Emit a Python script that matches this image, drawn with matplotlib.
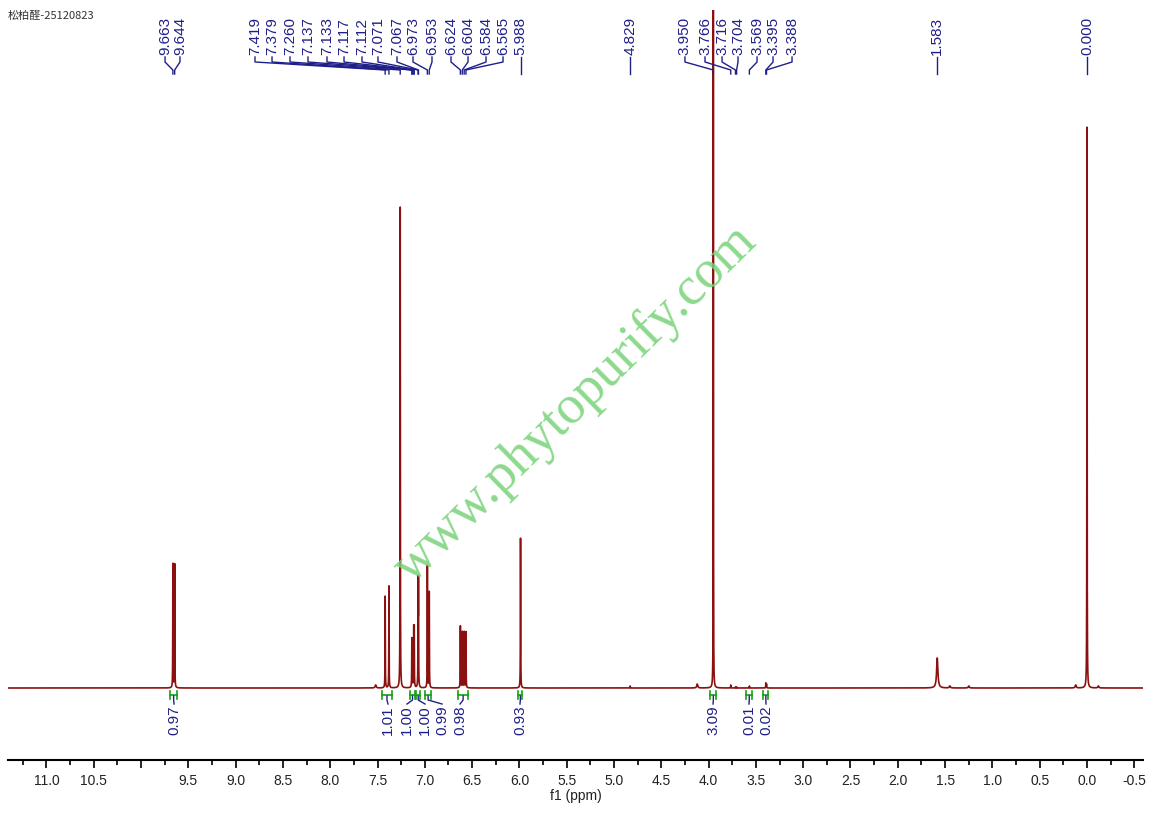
import matplotlib.pyplot as plt
import numpy as np

plt.rcParams['font.family'] = ['Liberation Sans', 'DejaVu Sans']

title = "松柏醛-25120823"

# labelled peaks: shift (ppm) and height (arb. units, ~px above baseline)
shifts = [9.663, 9.644, 7.419, 7.379, 7.260, 7.137, 7.133, 7.117, 7.112, 7.071, 7.067,
          6.973, 6.953, 6.624, 6.604, 6.584, 6.565, 5.988, 4.829, 3.950, 3.766, 3.716,
          3.704, 3.569, 3.395, 3.388, 1.583, 0.000]
heights = [124, 124, 92, 102, 481, 44, 44, 57, 58, 100, 100,
           122, 96, 62, 56, 56, 56, 150, 2, 2000, 3, 1,
           1, 2, 5, 4, 30, 561]
widths = [0.0015] * len(shifts)
widths[shifts.index(1.583)] = 0.008
widths[shifts.index(3.950)] = 0.0007

# small unlabelled bumps
extra_shifts = [7.52, 4.12, 1.45, 1.25, 0.12, -0.12]
extra_heights = [3, 4, 2, 2, 3, 2]

# label positions along the top (ppm), spread like the software does
label_x = [9.746, 9.588, 8.795, 8.615, 8.425, 8.235, 8.034, 7.854, 7.664, 7.495, 7.294,
           7.125, 6.924, 6.723, 6.543, 6.353, 6.173, 5.988, 4.829, 4.250, 4.038, 3.858,
           3.689, 3.488, 3.319, 3.118, 1.583, 0.000]

# integrals
integ_lo = [9.62, 7.35, 7.10, 7.05, 6.93, 6.54, 5.97, 3.92, 3.54, 3.37]
integ_hi = [9.69, 7.45, 7.16, 7.09, 7.00, 6.65, 6.01, 3.98, 3.60, 3.42]
integ_vals = ["0.97", "1.01", "1.00", "1.00", "0.99", "0.98", "0.93", "3.09", "0.01", "0.02"]
integ_label_x = [9.651, 7.389, 7.188, 6.998, 6.818, 6.628, 5.994, 3.953, 3.573, 3.393]

# build spectrum from peak list (lorentzian lines)
x = np.linspace(11.45, -0.65, 60001)
y = np.zeros_like(x)
for p, h, w in zip(shifts, heights, widths):
    y += h / (1 + ((x - p) / w) ** 2)
for p, h in zip(extra_shifts, extra_heights):
    y += h / (1 + ((x - p) / 0.006) ** 2)

fig = plt.figure(figsize=(11.5, 8.13), dpi=100)
ax = fig.add_axes([8 / 1150, 1 - 760 / 813, 1135 / 1150, 750 / 813])

spec_col = '#8b1010'
lab_col = '#1f1f8a'
int_col = '#16a016'

ax.plot(x, y, color=spec_col, lw=1.2)
ax.set_xlim(11.406, -0.592)
ax.set_ylim(-72, 678)

for s in ['top', 'left', 'right']:
    ax.spines[s].set_visible(False)
ax.spines['bottom'].set_linewidth(1.5)
ax.set_yticks([])

major = np.arange(-0.5, 11.01, 0.5)
minor = np.arange(-0.25, 11.3, 0.5)
ax.set_xticks(major)
ax.set_xticks(minor, minor=True)
ax.set_xticklabels(['' if abs(v - 10) < 1e-6 else f'{round(v, 1) + 0.0:.1f}' for v in major])
ax.tick_params(axis='x', which='major', length=6, width=1.2, labelsize=10,
               labelcolor='#222222', pad=4)
ax.tick_params(axis='x', which='minor', length=3.5, width=1.2)
ax.set_xlabel('f1 (ppm)', fontsize=10, color='#222222', labelpad=1)

# peak labels
for p, lx in zip(shifts, label_x):
    ax.text(lx, 633, f'{p:.3f}', rotation=90, ha='center', va='bottom',
            fontsize=11, color=lab_col)
    ax.plot([lx, lx, p, p], [631, 626, 618, 614], color=lab_col, lw=1,
            clip_on=False)

# integrals
for lo, hi, val, lx in zip(integ_lo, integ_hi, integ_vals, integ_label_x):
    c = (lo + hi) / 2
    ax.plot([hi, lo], [-7, -7], color=int_col, lw=1.2)
    ax.plot([hi, hi], [-3, -11], color=int_col, lw=1.2)
    ax.plot([lo, lo], [-3, -11], color=int_col, lw=1.2)
    ax.plot([c, c, lx], [-8, -12, -16], color=lab_col, lw=1)
    ax.text(lx, -17, val, rotation=90, ha='center', va='top', fontsize=11,
            color=lab_col)

ax.text(0.5, 0.475, 'www.phytopurify.com', transform=ax.transAxes, rotation=44.5,
        ha='center', va='center', fontsize=39, family='Liberation Serif',
        color='#78d278', alpha=0.85)

fig.text(8 / 1150, 1 - 16 / 813, title, fontsize=8, color='#333333', va='center',
         family=['Noto Sans CJK SC', 'DejaVu Sans'])

fig.savefig('out.png', dpi=100)
